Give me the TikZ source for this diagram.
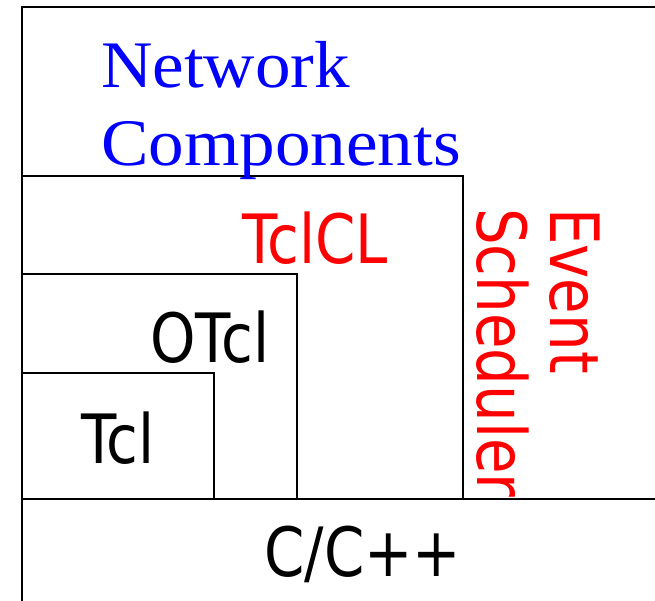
\documentclass[tikz,border=0pt]{standalone}
\usepackage{fontspec}
\newfontfamily\ssf[FakeStretch=0.85]{DejaVu Sans}
\newfontfamily\srf[FakeStretch=1.07]{Liberation Serif}
\definecolor{pureblue}{RGB}{0,0,255}
\definecolor{purered}{RGB}{255,0,0}
\tikzset{
  outerline/.style={line width=2.8pt, line cap=rect},
  innerline/.style={line width=2.2pt},
  sanslabel/.style={inner sep=0pt, font={\ssf\fontsize{68}{73}\selectfont}},
  seriflabel/.style={inner sep=0pt, align=left, text=pureblue, font={\srf\fontsize{66.5}{78}\selectfont}}
}
\begin{document}
\begin{tikzpicture}[x=1pt,y=-1pt]
\useasboundingbox (0,0) rectangle (655,600);
\fill[white] (0,0) rectangle (655,600);
% structure
\coordinate (tl) at (22,7);
\coordinate (tr) at (655,7);
\coordinate (bl) at (22,600);
\coordinate (ncl) at (22,176);
\coordinate (ncr) at (463,176);
\coordinate (ncb) at (463,499);
\coordinate (tcll) at (22,274);
\coordinate (tclr) at (297,274);
\coordinate (tclb) at (297,499);
\coordinate (otl) at (22,373);
\coordinate (otr) at (214,373);
\coordinate (otb) at (214,499);
\coordinate (cl) at (22,499);
\coordinate (cr) at (655,499);
\draw[innerline] (ncl) -- (ncr) -- (ncb);
\draw[innerline] (tcll) -- (tclr) -- (tclb);
\draw[innerline] (otl) -- (otr) -- (otb);
\draw[outerline] (cl) -- (cr);
\draw[outerline] (bl) -- (tl) -- (tr);
% labels
\node[seriflabel, anchor=north west] (net) at (101,41.6) {Network\\Components};
\node[sanslabel, text=purered, anchor=base west] (tclcl) at (242,263) {TclCL};
\node[sanslabel, anchor=base west] (otcl) at (150,362) {OTcl};
\node[sanslabel, anchor=base west] (tcl) at (81,463) {Tcl};
\node[sanslabel, anchor=base west] (cpp) at (264,576) {C/C++};
\node[sanslabel, text=purered, align=left, rotate=-90, anchor=north west] (evs) at (600,208) {Event\\Scheduler};
\end{tikzpicture}
\end{document}
